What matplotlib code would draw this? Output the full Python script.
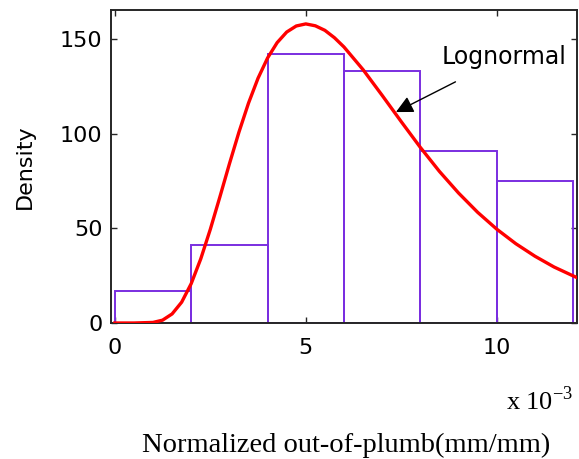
import matplotlib
matplotlib.use("Agg")
import matplotlib.pyplot as plt

# histogram bins (x 1e-3 mm/mm) and density heights
bin_edges = [0, 2, 4, 6, 8, 10, 12]
bin_density = [17, 41, 142, 133, 91, 75]

# fitted lognormal density curve, sampled along x (x 1e-3 mm/mm)
curve_x = [0, 0.5, 1.0, 1.25, 1.5, 1.75, 2.0, 2.25, 2.5, 2.75, 3.0, 3.25, 3.5, 3.75,
           4.0, 4.25, 4.5, 4.75, 5.0, 5.25, 5.5, 5.75, 6.0, 6.5, 7.0, 7.5, 8.0,
           8.5, 9.0, 9.5, 10.0, 10.5, 11.0, 11.5, 12.0, 12.1]
curve_y = [0, 0, 0.3, 1.5, 4.8, 11.0, 20.8, 33.9, 49.5, 66.6, 84.1, 100.9, 116.2, 129.4,
           140.1, 148.2, 153.8, 157.0, 158.1, 157.1, 154.7, 150.8, 145.9, 133.9, 120.3, 106.4, 92.8,
           80.1, 68.7, 58.5, 49.6, 41.9, 35.3, 29.6, 24.9, 24.0]

x_ticks = [0, 5, 10]
y_ticks = [0, 50, 100, 150]

fig = plt.figure(figsize=(5.79, 4.59), dpi=100)
ax = fig.add_axes([0.1917, 0.2963, 0.8048, 0.6817])

widths = [b - a for a, b in zip(bin_edges[:-1], bin_edges[1:])]
ax.bar(bin_edges[:-1], bin_density, width=widths, align="edge",
       facecolor="none", edgecolor="#7a2ee0", linewidth=1.4, zorder=2)
ax.plot(curve_x, curve_y, color="#ff0000", linewidth=2.4, zorder=3)

ax.set_xlim(-0.1, 12.1)
ax.set_ylim(0, 165.4)
ax.set_xticks(x_ticks)
ax.set_yticks(y_ticks)
ax.tick_params(direction="in", length=4, width=1, top=True, right=True,
               labelsize=16, color="#262626", labelcolor="black")
ax.tick_params(axis="x", pad=11)
ax.tick_params(axis="y", pad=6)
for s in ax.spines.values():
    s.set_linewidth(1.4)
    s.set_color("#262626")

ax.set_ylabel("Density", fontsize=16)
ax.yaxis.set_label_coords(-0.163, 0.5)

serif = "Liberation Serif"
fig.text(0.597, 0.03, "Normalized out-of-plumb(mm/mm)", family=serif,
         fontsize=20.5, ha="center", va="center")
fig.text(0.874, 0.107, r"x 10$^{\mathregular{-3}}$", family=serif,
         fontsize=19, ha="left", va="baseline")

ax.annotate("Lognormal", xy=(7.36, 111.5), xytext=(10.2, 140.6),
            fontsize=17, ha="center", va="center",
            arrowprops=dict(arrowstyle="-|>", color="black", lw=1,
                            mutation_scale=26, shrinkA=16, shrinkB=0))

fig.savefig("out.png", dpi=100)
